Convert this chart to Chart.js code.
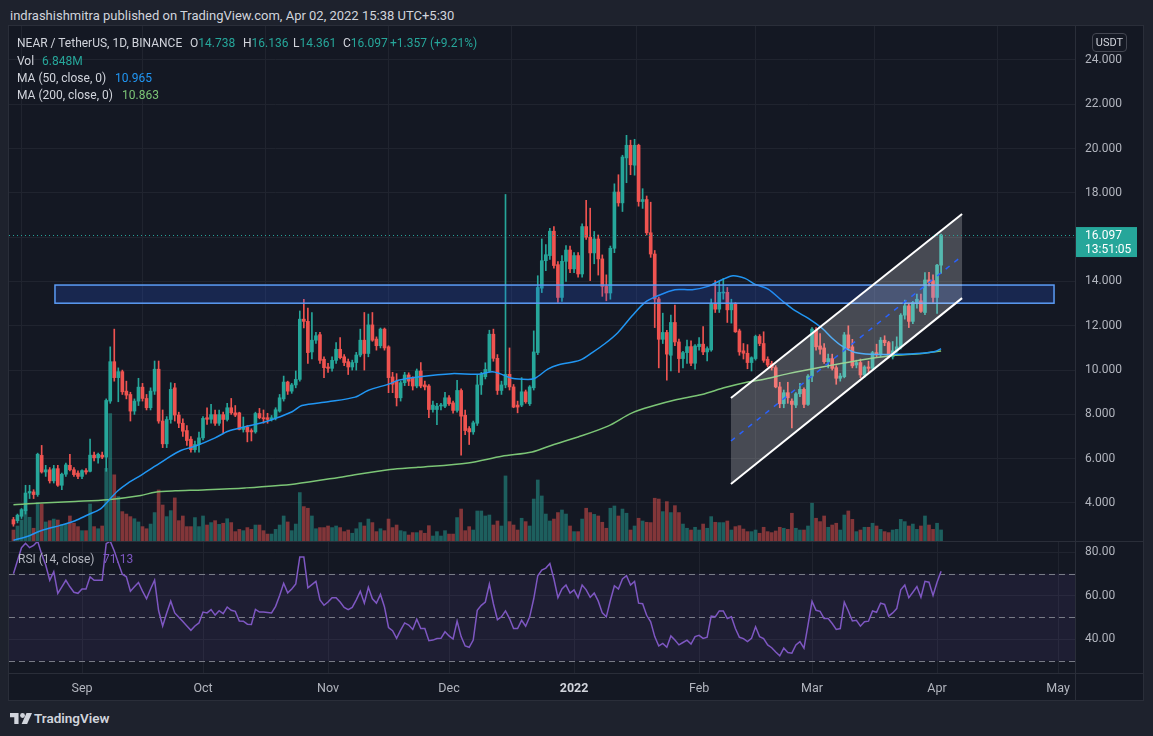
<!DOCTYPE html>
<html>
<head>
<meta charset="utf-8">
<title>NEAR / TetherUS 1D</title>
<script src="https://cdn.jsdelivr.net/npm/chart.js@4.4.1/dist/chart.umd.min.js"></script>
<style>
  html, body { margin: 0; padding: 0; }
  body { width: 1153px; height: 736px; background: #1e222d; position: relative; overflow: hidden;
         font-family: Roboto, "Noto Sans", "DejaVu Sans", sans-serif; color: #d1d4dc; }
  .abs { position: absolute; white-space: nowrap; }
  canvas { position: absolute; }
  .lg { font-size: 12px; line-height: 16px; color: #d1d4dc; }
  .tl { color: #26a69a; }
</style>
</head>
<body>
<div class="abs" style="left:9px;top:26px;width:1134px;height:674px;background:#141823"></div>
<canvas id="priceChart" width="1134" height="515" style="left:9px;top:26px"></canvas>
<canvas id="rsiChart" width="1134" height="159" style="left:9px;top:541px"></canvas>

<!-- pane frame and separators -->
<div class="abs" style="left:9px;top:541px;width:1134px;height:1px;background:#2a2e39"></div>
<div class="abs" style="left:9px;top:673px;width:1134px;height:1px;background:#2a2e39"></div>
<div class="abs" style="left:1075px;top:26px;width:1px;height:674px;background:#2a2e39"></div>
<div class="abs" style="left:8px;top:25px;width:1134px;height:674px;border:1px solid #2a2e39"></div>

<div class="abs" style="left:10px;top:8px;font-size:13px;line-height:16px;color:#d1d4dc">indrashishmitra published on TradingView.com, Apr 02, 2022 15:38 UTC+5:30</div>

<div class="abs lg" style="left:17px;top:35px">NEAR / TetherUS, 1D, BINANCE</div>
<div class="abs lg" style="left:190px;top:35px">O<span class="tl">14.738</span></div>
<div class="abs lg" style="left:243px;top:35px">H<span class="tl">16.136</span></div>
<div class="abs lg" style="left:293px;top:35px">L<span class="tl">14.361</span></div>
<div class="abs lg" style="left:343px;top:35px">C<span class="tl">16.097</span></div>
<div class="abs lg tl" style="left:390px;top:35px">+1.357 (+9.21%)</div>
<div class="abs lg" style="left:17px;top:53px">Vol</div>
<div class="abs lg tl" style="left:42px;top:53px">6.848M</div>
<div class="abs lg" style="left:17px;top:70px">MA (50, close, 0)</div>
<div class="abs lg" style="left:115px;top:70px;color:#2196f3">10.965</div>
<div class="abs lg" style="left:17px;top:87px">MA (200, close, 0)</div>
<div class="abs lg" style="left:122px;top:87px;color:#7cc576">10.863</div>

<div class="abs" style="left:1092px;top:33px;width:33px;height:17px;border:1px solid #434651;border-radius:4px;font-size:11px;line-height:17px;text-align:center;color:#d1d4dc">USDT</div>

<div class="abs lg" style="left:18px;top:551px;color:#b2b5be">RSI (14, close)</div>
<div class="abs lg" style="left:103px;top:551px;color:#7e57c2">71.13</div>

<svg class="abs" style="left:10px;top:713px" width="22" height="11" viewBox="0 0 36 18">
  <path d="M0 0h14v18H7V7H0z" fill="#d1d4dc"/>
  <circle cx="20.5" cy="4" r="4" fill="#d1d4dc"/>
  <path d="M27 0h9l-8 18h-9z" fill="#d1d4dc"/>
</svg>
<div class="abs" style="left:34px;top:710px;font-size:13.5px;line-height:16px;font-weight:600;color:#d1d4dc">TradingView</div>

<script>
// day numbers count from Sep 1, 2021 (= 0); first candle is Aug 15, 2021
const firstDay = -17;
const monthTicks = [0, 30, 61, 91, 122, 153, 181, 212, 242];
const monthLabels = ['Sep', 'Oct', 'Nov', 'Dec', '2022', 'Feb', 'Mar', 'Apr', 'May'];
const priceTicks = [4, 6, 8, 10, 12, 14, 16, 18, 20, 22, 24];
const rsiTicks = [40, 60, 80];
const rsiLevels = [30, 50, 70];
const lastPrice = 16.097;

// daily candles [open, high, low, close]
const candles = [
  [3.25,3.35,2.95,3.05],[3.2,3.5,3.1,3.45],[3.4,3.75,3.3,3.7],[3.65,4.8,3.5,4.45],[4.45,4.8,4.2,4.52],
  [4.5,4.6,4.2,4.38],[4.38,6.25,4.3,6.2],[6.15,6.6,5.35,5.4],[5.4,5.7,5.2,5.5],[5.5,5.6,4.9,5.0],
  [5.0,5.7,4.9,5.55],[5.55,5.7,4.75,4.8],[4.8,5.35,4.6,5.3],[5.3,5.8,5.2,5.72],[5.7,6.2,5.45,5.5],
  [5.5,5.6,5.2,5.28],[5.35,5.45,5.1,5.2],[5.2,5.5,5.1,5.46],[5.46,5.55,5.3,5.4],[5.43,6.88,5.4,6.16],
  [6.16,6.3,5.9,6.04],[6.04,6.25,5.8,6.2],[6.16,6.3,6.0,6.07],[6.07,8.7,5.43,8.63],[8.6,11.05,8.5,10.38],
  [10.38,11.85,9.5,9.66],[9.66,10.1,8.57,9.93],[9.93,10.0,8.9,9.02],[9.05,9.5,8.7,8.87],[8.9,9.0,7.7,8.15],
  [8.15,8.7,8.0,8.6],[8.6,9.63,8.4,9.23],[9.23,9.4,8.6,8.72],[8.72,8.9,8.2,8.3],[8.3,9.2,8.2,9.05],
  [9.05,10.41,8.9,10.04],[10.04,10.41,7.6,7.7],[7.7,8.2,6.5,6.67],[6.67,7.9,6.5,7.77],[7.77,9.43,7.6,9.13],
  [9.2,9.4,7.7,7.97],[7.97,8.1,7.4,7.6],[7.6,7.8,7.0,7.24],[7.27,7.5,6.6,6.82],[6.88,7.0,6.3,6.41],
  [6.41,6.8,6.3,6.64],[6.64,7.2,6.3,6.94],[6.94,7.9,6.85,7.82],[7.85,8.3,7.55,7.78],[7.78,8.45,7.6,7.99],
  [7.99,8.2,7.5,7.6],[7.6,8.2,7.5,7.99],[7.99,8.1,7.16,7.77],[7.77,8.5,7.7,8.3],[8.3,8.72,8.0,8.07],
  [8.07,8.4,7.9,7.97],[8.07,8.1,7.3,7.32],[7.32,7.88,7.2,7.42],[7.42,7.5,6.76,7.21],[7.27,7.35,6.8,7.21],
  [7.21,8.1,7.15,8.04],[8.04,8.27,7.8,7.85],[7.85,8.2,7.6,7.8],[7.85,8.05,7.6,7.77],[7.77,7.95,7.7,7.85],
  [7.85,8.3,7.75,8.21],[8.15,8.9,8.1,8.75],[8.7,9.73,8.6,9.46],[9.46,9.5,8.9,9.05],[9.05,9.4,8.95,9.33],
  [9.33,9.96,9.2,9.58],[9.58,12.67,9.5,12.3],[12.3,13.2,11.9,12.2],[12.2,12.8,10.3,10.79],[10.82,12.6,10.5,11.35],
  [11.35,11.7,11.2,11.55],[11.6,11.7,10.3,10.44],[10.49,10.6,9.66,10.11],[10.14,10.3,9.9,10.08],[10.08,10.6,9.95,10.44],
  [10.44,11.24,10.3,10.94],[10.94,11.47,10.5,10.56],[10.6,10.7,10.2,10.34],[10.38,10.5,9.8,10.14],[10.14,10.45,10.0,10.34],
  [10.34,10.8,10.0,10.68],[10.68,11.85,10.6,11.35],[11.35,12.6,10.0,10.75],[10.75,12.53,10.6,12.04],[12.04,12.6,11.3,11.35],
  [11.4,11.5,10.9,11.1],[11.1,11.9,11.0,11.85],[11.85,11.9,10.9,11.0],[11.05,11.1,8.98,9.66],[9.69,9.9,8.98,9.36],
  [9.5,9.84,8.38,8.75],[8.75,9.5,8.6,9.43],[9.43,9.9,9.3,9.78],[9.78,9.88,9.3,9.5],[9.66,9.7,9.1,9.28],
  [9.28,10.05,9.2,9.96],[9.96,10.34,9.2,9.28],[9.33,9.5,9.1,9.24],[9.28,9.35,7.85,8.22],[8.22,8.6,8.1,8.42],
  [8.22,8.5,7.54,8.37],[8.38,8.5,8.2,8.42],[8.37,9.0,8.3,8.75],[8.75,8.85,8.4,8.48],[8.52,8.6,8.05,8.18],
  [8.18,9.54,8.1,9.08],[9.08,9.15,6.16,7.92],[7.96,8.2,7.09,7.27],[7.36,7.45,6.64,7.21],[7.21,7.7,7.1,7.62],
  [7.6,9.78,7.5,9.33],[9.33,9.9,8.9,9.81],[9.7,10.33,9.6,10.03],[9.96,11.8,9.9,11.62],[11.62,11.85,10.4,10.53],
  [10.53,10.7,8.9,9.08],[9.08,9.5,8.9,9.33],[9.33,17.93,9.2,9.81],[9.81,11.0,9.1,9.24],[9.24,9.35,8.3,8.33],
  [8.42,8.6,8.07,8.33],[8.42,9.66,8.35,9.02],[9.02,9.1,8.5,8.57],[8.48,9.3,8.4,9.24],[9.2,11.77,9.1,10.82],
  [10.79,14.26,10.7,13.73],[13.7,15.92,13.5,14.94],[14.94,15.67,14.49,15.21],[15.17,16.4,15.0,16.27],[16.27,16.48,14.6,14.72],
  [14.76,14.9,13.05,13.28],[13.28,15.17,13.1,14.91],[14.91,15.62,14.0,15.42],[15.42,15.6,14.4,14.57],[14.57,15.3,14.4,15.17],
  [15.17,15.3,14.2,14.34],[14.34,16.6,14.19,16.48],[16.48,17.66,15.9,16.0],[16.0,17.31,14.04,15.29],[15.29,16.26,14.8,15.92],
  [15.92,16.1,14.29,15.02],[15.02,15.2,13.33,13.78],[13.78,14.3,13.13,13.48],[13.48,15.6,13.2,15.5],[15.5,18.41,15.3,18.04],
  [18.04,18.82,17.4,17.55],[17.55,19.7,17.16,19.62],[19.58,20.6,18.46,20.15],[20.15,20.38,18.82,19.27],[19.25,20.42,18.8,20.15],
  [20.15,20.2,17.4,17.61],[17.61,18.19,17.3,17.7],[17.7,17.86,16.1,16.2],[16.2,17.58,15.09,15.24],[15.24,15.4,11.92,13.21],
  [13.21,13.3,10.1,11.39],[11.39,12.57,11.2,11.7],[11.7,11.8,9.55,10.72],[10.67,12.48,9.96,12.15],[12.15,12.93,11.1,11.27],
  [11.27,11.4,9.9,10.52],[10.52,10.85,10.1,10.79],[10.79,11.36,10.3,11.06],[11.06,11.32,10.2,10.31],[10.31,11.15,10.04,11.09],
  [11.06,11.47,10.9,11.17],[11.17,11.97,10.7,10.82],[10.82,11.05,10.41,10.97],[10.91,13.21,10.85,12.98],[12.98,14.04,12.6,12.75],
  [12.75,14.0,12.6,13.51],[13.48,14.14,13.2,13.51],[13.51,13.73,12.15,12.72],[12.72,13.2,12.12,12.98],[12.98,13.05,11.7,11.73],
  [11.77,11.85,10.67,10.82],[10.87,11.2,10.5,10.76],[10.76,11.15,10.06,10.34],[10.34,10.6,9.96,10.56],[10.52,11.58,10.45,11.52],
  [11.52,11.6,11.1,11.2],[11.2,11.73,10.35,10.44],[10.49,10.6,10.15,10.23],[10.29,10.4,10.0,10.11],[10.11,10.2,9.2,9.24],
  [9.24,9.45,8.3,8.48],[8.48,9.1,8.3,8.98],[8.98,9.45,8.5,8.75],[8.6,8.7,7.39,8.45],[8.42,8.98,8.3,8.93],
  [8.93,9.4,8.8,9.13],[9.13,9.2,8.3,8.45],[8.45,9.8,8.4,9.73],[9.73,11.92,9.48,11.85],[11.8,11.92,10.9,11.05],
  [11.09,11.65,10.72,10.94],[11.0,11.2,10.3,10.38],[10.38,10.72,10.1,10.52],[10.52,10.72,10.0,10.08],[10.11,10.2,9.36,9.63],
  [9.63,9.85,9.5,9.73],[9.7,11.7,9.65,11.59],[11.59,12.0,10.9,10.99],[11.05,11.39,10.1,10.19],[10.23,10.45,10.1,10.34],
  [10.34,10.5,9.66,9.78],[9.78,10.2,9.66,10.14],[10.14,10.4,9.9,10.08],[10.08,10.85,10.0,10.79],[10.79,11.17,10.6,10.69],
  [10.69,11.47,10.6,11.35],[11.35,11.55,11.1,11.24],[11.24,11.3,10.55,10.6],[10.6,11.29,10.5,10.87],[10.87,11.5,10.8,11.05],
  [11.05,12.55,10.95,12.48],[12.48,13.16,12.3,12.9],[12.9,13.0,11.92,12.2],[12.2,13.1,12.1,13.05],[13.05,13.43,12.8,13.2],
  [13.13,13.43,12.6,12.65],[12.6,14.4,12.5,14.07],[14.07,14.41,13.8,13.96],[14.04,14.3,13.06,13.28],[13.28,14.78,12.56,14.738],
  [14.738,16.136,14.361,16.097]
];

// daily volume, millions
const volumes = [
  6.8,9.3,13,19.6,14.7,7.9,23.8,22.9,11.8,12.6,
  13.6,13.0,10.3,10.3,15.5,11.0,8.9,6.4,6.4,22.9,
  8.9,7.6,9.3,45,79,41,27.5,18.2,16.7,15.1,
  13.8,11.8,8.9,7.6,10.5,17.6,31.6,22.3,15.1,18.8,
  26.7,12.6,15.5,8.9,8.9,14.5,8.9,15.5,9.9,11.4,
  12.6,10.3,11.0,13.8,11.4,5.8,7.2,6.4,8.3,7.2,
  9.9,9.9,6.4,4.3,4.3,7.2,9.9,15.5,11.8,6.4,
  10.5,30,21.3,20.3,15.5,7.6,8.3,8.3,9.3,8.3,
  9.3,8.3,5.8,6.8,4.8,7.6,11.4,9.3,13.6,11.4,
  5.8,7.6,6.4,13.6,8.3,9.9,6.4,5.8,3.7,5.2,
  5.2,6.4,4.8,9.5,3.1,5.8,3.1,6.4,4.3,4.3,
  14.5,19.8,6.4,8.9,6.8,18.6,18.6,15.5,16.1,9.9,
  12.4,9.3,40.3,12.0,9.9,6.8,14.1,12.0,9.3,26,
  37.8,27.9,16.7,12.4,13.6,17.6,19.2,16.7,9.3,5.8,
  5.8,13.6,20.3,17.6,16.5,15.5,11.6,7.9,20.3,21.7,
  15.5,19.8,17.2,6.8,9.3,14.1,12.4,11.6,11.4,26.5,
  26.0,18.2,24.4,17.6,21.9,17.6,10.5,7.9,6.8,8.5,
  6.8,10.5,7.9,15.1,11.6,11.4,11.4,12.4,6.8,8.9,
  9.5,7.4,5.8,5.8,6.8,4.8,8.5,5.8,5.2,6.2,
  8.5,7.9,7.2,17.2,7.9,6.8,6.8,9.3,23.4,14.1,
  12.0,15.5,8.5,9.9,11.0,6.8,16.1,18.6,13.4,5.8,
  6.8,8.5,8.5,11.0,9.3,7.2,5.8,5.2,6.8,7.2,
  13.4,12.0,9.3,10.5,7.2,9.3,15.5,9.9,7.2,11.0,
  6.848
];

// RSI (14, close), daily
const rsi = [
  70,76,82,84,82,83,85,79,74,67,
  71,61,64,67,64,61.5,61,63,63,68.6,
  67,67,67,83.8,85,80.5,75,69.8,68.6,62,
  64,66,62,58.5,63,67,53,46,52,57.4,
  52,50,48,46,44,46,47.4,52.4,52,53.5,
  51,53,51.7,54.7,53.2,52.7,48.3,48.2,46.8,46.7,
  53.6,52.4,52.4,52.2,52,55,60,65.6,61.2,63,
  65.3,77.7,77.7,63.5,65,66.5,58,55.5,57,59,
  59,57,54.5,53.5,54.5,58,62,56.5,63.8,58.5,
  56.5,60.5,54.7,45.3,43.8,40.3,44.1,47.4,46.4,44.4,
  49.1,44.8,44.8,39.2,39.5,40.2,40.3,43.3,41.4,40,
  48.2,41.1,36.8,36.2,39.5,53.2,55.5,57,65.3,56.2,
  48.9,50.2,52.9,49.4,44.8,44.8,48.6,45.9,50.2,58.5,
  69.1,71.7,72.6,74.7,67.6,59,63,64.8,61.1,62.6,
  59,64.8,62.6,59.2,61.1,57.4,52,50.2,57.7,64.5,
  63,67.6,69.1,64.8,66.5,56.5,56.2,50.9,47.9,41.1,
  36.8,38,36.2,41.4,39.5,37.3,38.4,39.5,37.7,41.1,
  41.7,40.3,40.8,50.5,50.2,52.9,52.9,49.4,50.2,44.8,
  40.8,40.2,38.8,40.3,45.6,41.1,40.2,37.3,36,34,
  32.3,35.8,33.8,33.5,37.3,38.8,35.8,46.4,57.3,53.2,
  52.7,49.4,49.4,47.1,44.4,44.8,57,52.9,48.3,48.6,
  45.9,47.9,48.2,52.9,52.3,56.5,55.9,50.5,52,54,
  62.6,64.8,59,61.5,64.1,59.2,66.5,66.1,60,66.1,
  71.13
];

// moving averages: [day, value]
const ma50 = [
  [-17,2.32],[-13.4,2.5],[-10.2,2.75],[-5.2,3.0],[-1.7,3.2],[1.5,3.47],[4.5,3.72],[6.4,4.07],
  [8.9,4.55],[11.4,4.9],[14.6,5.25],[18.1,5.66],[21.3,6.04],[24.5,6.37],[28,6.56],[33,6.94],
  [36.2,7.24],[40.4,7.44],[46.1,7.7],[52.1,8.12],[54.5,8.4],[61,8.57],[67.7,8.78],[70.9,9.08],
  [76.4,9.39],[78.4,9.54],[83.3,9.69],[91.7,9.84],[98.2,9.81],[101.7,9.93],[103.6,9.84],[106.6,9.63],
  [110.6,9.58],[112.3,9.63],[115.5,10.04],[118,10.23],[123.5,10.45],[126.5,10.79],[129.7,11.2],[132.9,11.7],
  [136.4,12.45],[139.6,13.06],[142.8,13.36],[147,13.63],[151.3,13.63],[155.2,13.78],[158.7,14.08],[161.4,14.26],
  [164.4,14.14],[166.9,13.87],[170.1,13.66],[173.6,13.13],[176.8,12.68],[180,12.35],[183.5,11.89],[186,11.44],
  [188.4,11.09],[191.7,10.79],[195.9,10.71],[201.6,10.71],[208.3,10.76],[211.5,10.84],[213,10.965]
];
const ma200 = [
  [-17,3.92],[-10.2,4.0],[-1.7,4.07],[6.4,4.15],[14.6,4.34],[18.1,4.49],[23.1,4.55],[30,4.59],
  [40.4,4.68],[52.8,4.86],[65.2,5.2],[76.4,5.51],[83.3,5.61],[95.7,5.81],[104.1,6.11],[111.6,6.3],
  [116.5,6.61],[123,6.98],[130.4,7.47],[136.4,8.07],[142.1,8.41],[147,8.65],[153.7,8.9],[159.4,9.21],
  [165.1,9.46],[169.4,9.6],[175.1,9.84],[183.5,10.14],[191.7,10.41],[199.9,10.64],[208.3,10.75],[213,10.863]
];

// drawings: resistance zone and rising parallel channel
const zoneDays = [-6.7, 241];
const zonePrices = [13.02, 13.84];
const channelDays = [160.9, 218.2];
const channelUpper = [8.74, 17.05];
const channelLower = [4.86, 13.25];
const channelMid = [6.80, 15.15];

const GREEN = '#26a69a', RED = '#ef5350', GRID = '#20242f';
const FONT = 'Roboto, "Noto Sans", sans-serif';
Chart.defaults.font.family = FONT;
Chart.defaults.font.size = 12;
Chart.defaults.color = '#b2b5be';

const days = candles.map((c, i) => firstDay + i);
const isUp = candles.map(c => c[3] >= c[0]);
const xMin = -18.1, xMax = 246.2;

// keep the plot area flush with the canvas edges
const noPad = s => { s.paddingTop = 0; s.paddingBottom = 0; s.paddingLeft = 0; s.paddingRight = 0; };

const monthX = {
  type: 'linear', min: xMin, max: xMax, offset: false,
  afterBuildTicks: s => { s.ticks = monthTicks.map(v => ({ value: v })); },
  grid: { color: GRID, drawTicks: false },
  border: { display: false }
};

const drawings = {
  id: 'drawings',
  afterDatasetsDraw(chart) {
    const { ctx, chartArea: a, scales: { x, y } } = chart;
    ctx.save();
    ctx.beginPath();
    ctx.rect(a.left, a.top, a.right - a.left, a.bottom - a.top);
    ctx.clip();

    // zone
    const zx0 = x.getPixelForValue(zoneDays[0]), zx1 = x.getPixelForValue(zoneDays[1]);
    const zy0 = y.getPixelForValue(zonePrices[1]), zy1 = y.getPixelForValue(zonePrices[0]);
    ctx.fillStyle = 'rgba(41,98,255,0.2)';
    ctx.fillRect(zx0, zy0, zx1 - zx0, zy1 - zy0);
    ctx.strokeStyle = '#5b9cf6';
    ctx.lineWidth = 1.5;
    ctx.strokeRect(zx0, zy0, zx1 - zx0, zy1 - zy0);

    // channel
    const cx0 = x.getPixelForValue(channelDays[0]), cx1 = x.getPixelForValue(channelDays[1]);
    const u0 = y.getPixelForValue(channelUpper[0]), u1 = y.getPixelForValue(channelUpper[1]);
    const l0 = y.getPixelForValue(channelLower[0]), l1 = y.getPixelForValue(channelLower[1]);
    const m0 = y.getPixelForValue(channelMid[0]), m1 = y.getPixelForValue(channelMid[1]);
    ctx.fillStyle = 'rgba(255,255,255,0.22)';
    ctx.beginPath();
    ctx.moveTo(cx0, u0); ctx.lineTo(cx1, u1); ctx.lineTo(cx1, l1); ctx.lineTo(cx0, l0);
    ctx.closePath();
    ctx.fill();
    ctx.strokeStyle = '#ffffff';
    ctx.lineWidth = 2;
    ctx.beginPath(); ctx.moveTo(cx0, u0); ctx.lineTo(cx1, u1); ctx.stroke();
    ctx.beginPath(); ctx.moveTo(cx0, l0); ctx.lineTo(cx1, l1); ctx.stroke();
    ctx.strokeStyle = '#2962ff';
    ctx.lineWidth = 1.5;
    ctx.setLineDash([5, 6]);
    ctx.beginPath(); ctx.moveTo(cx0, m0); ctx.lineTo(cx1, m1); ctx.stroke();

    // last price line
    const py = Math.round(y.getPixelForValue(lastPrice)) + 0.5;
    ctx.strokeStyle = GREEN;
    ctx.lineWidth = 1;
    ctx.setLineDash([1, 3]);
    ctx.beginPath(); ctx.moveTo(a.left, py); ctx.lineTo(a.right, py); ctx.stroke();
    ctx.restore();
  },
  afterDraw(chart) {
    const { ctx, chartArea: a, scales: { y } } = chart;
    const py = y.getPixelForValue(lastPrice);
    ctx.save();
    ctx.fillStyle = GREEN;
    ctx.fillRect(a.right, py - 8, 62, 30);
    ctx.fillStyle = '#ffffff';
    ctx.font = '12px ' + FONT;
    ctx.textBaseline = 'middle';
    ctx.fillText(lastPrice.toFixed(3), a.right + 10, py + 1);
    ctx.fillText('13:51:05', a.right + 10, py + 15);
    ctx.restore();
  }
};

new Chart(document.getElementById('priceChart'), {
  type: 'bar',
  data: {
    datasets: [
      { type: 'line', data: ma50.map(p => ({ x: p[0], y: p[1] })), borderColor: '#2196f3', borderWidth: 1.5,
        pointRadius: 0, tension: 0.3, yAxisID: 'y', order: 1 },
      { type: 'line', data: ma200.map(p => ({ x: p[0], y: p[1] })), borderColor: '#7cc576', borderWidth: 1.5,
        pointRadius: 0, tension: 0.3, yAxisID: 'y', order: 2 },
      { data: candles.map((c, i) => ({ x: days[i], y: [c[0], c[3]] })), backgroundColor: isUp.map(u => u ? GREEN : RED),
        barThickness: 3, minBarLength: 1, grouped: false, yAxisID: 'y', order: 3 },
      { data: candles.map((c, i) => ({ x: days[i], y: [c[2], c[1]] })), backgroundColor: isUp.map(u => u ? GREEN : RED),
        barThickness: 1, grouped: false, yAxisID: 'y', order: 4 },
      { data: volumes.map((v, i) => ({ x: days[i], y: v })),
        backgroundColor: isUp.map(u => u ? 'rgba(38,166,154,0.5)' : 'rgba(239,83,80,0.5)'),
        barThickness: 3, grouped: false, yAxisID: 'vol', order: 5 }
    ]
  },
  options: {
    responsive: false, animation: false, devicePixelRatio: 1, events: [],
    layout: { padding: 0 },
    plugins: { legend: { display: false }, tooltip: { enabled: false } },
    scales: {
      x: Object.assign({}, monthX, { ticks: { display: false }, afterFit: s => { s.height = 0; noPad(s); } }),
      y: {
        position: 'right', min: 2.284, max: 25.535,
        afterBuildTicks: s => { s.ticks = priceTicks.map(v => ({ value: v })); },
        ticks: { padding: 10, callback: v => v === 16 ? '' : v.toFixed(3) },
        grid: { color: GRID, drawTicks: false },
        border: { display: false },
        afterFit: s => { s.width = 68; noPad(s); }
      },
      vol: { display: false, min: 0, max: 319 }
    }
  },
  plugins: [drawings]
});

const rsiBand = {
  id: 'rsiBand',
  beforeDatasetsDraw(chart) {
    const { ctx, chartArea: a, scales: { y } } = chart;
    const top = y.getPixelForValue(rsiLevels[2]), bot = y.getPixelForValue(rsiLevels[0]);
    ctx.save();
    ctx.fillStyle = 'rgba(126,87,194,0.1)';
    ctx.fillRect(a.left, top, a.right - a.left, bot - top);
    ctx.strokeStyle = '#787b86';
    ctx.lineWidth = 1;
    ctx.setLineDash([6, 4]);
    rsiLevels.forEach(v => {
      const py = Math.round(y.getPixelForValue(v)) + 0.5;
      ctx.beginPath(); ctx.moveTo(a.left, py); ctx.lineTo(a.right, py); ctx.stroke();
    });
    ctx.restore();
  }
};

new Chart(document.getElementById('rsiChart'), {
  type: 'line',
  data: {
    datasets: [
      { data: rsi.map((v, i) => ({ x: days[i], y: v })), borderColor: '#7e57c2', borderWidth: 1.5,
        pointRadius: 0, tension: 0 }
    ]
  },
  options: {
    responsive: false, animation: false, devicePixelRatio: 1, events: [],
    layout: { padding: 0 },
    plugins: { legend: { display: false }, tooltip: { enabled: false } },
    scales: {
      x: Object.assign({}, monthX, {
        ticks: {
          autoSkip: false, maxRotation: 0, padding: 8,
          callback: v => { const i = monthTicks.indexOf(v); return i >= 0 ? monthLabels[i] : ''; },
          color: c => monthLabels[c.index] === '2022' ? '#d1d4dc' : '#b2b5be',
          font: c => ({ size: 12.5, weight: monthLabels[c.index] === '2022' ? 'bold' : 'normal' })
        },
        afterFit: s => { s.height = 27; noPad(s); }
      }),
      y: {
        position: 'right', min: 24.37, max: 85.06,
        afterBuildTicks: s => { s.ticks = rsiTicks.map(v => ({ value: v })); },
        ticks: { padding: 10, callback: v => v.toFixed(2) },
        grid: { color: GRID, drawTicks: false },
        border: { display: false },
        afterFit: s => { s.width = 68; noPad(s); }
      }
    }
  },
  plugins: [rsiBand]
});
</script>
</body>
</html>
